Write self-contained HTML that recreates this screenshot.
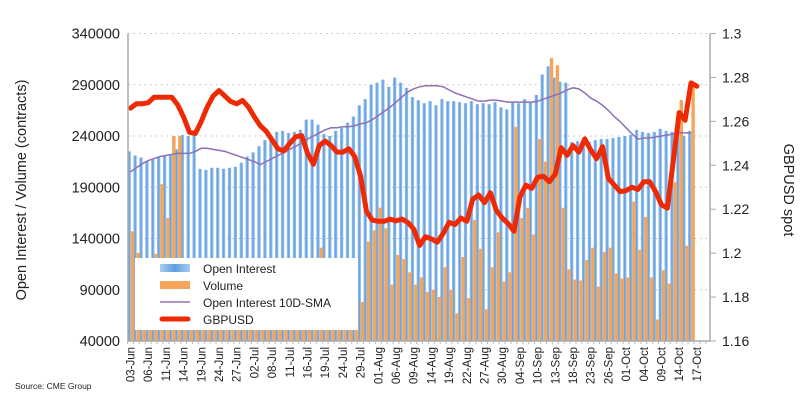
<!DOCTYPE html>
<html><head><meta charset="utf-8"><style>
body{margin:0;background:#fff;}
svg{display:block;font-family:"Liberation Sans",sans-serif;}
</style></head><body>
<svg id="chart" width="806" height="413" xmlns="http://www.w3.org/2000/svg">
<defs>
<linearGradient id="blueGrad" x1="0" x2="1" y1="0" y2="0">
<stop offset="0" stop-color="#a9cbf2"/><stop offset="0.5" stop-color="#5e9de0"/><stop offset="1" stop-color="#a9cbf2"/>
</linearGradient>
</defs>
<g id="grid"></g>
<g id="bars"></g>
<g id="lines"></g>
<g id="axes"></g>
<g id="legend">
<rect x="135" y="258" width="223" height="72" fill="#fff"/>
<rect x="160" y="264" width="30" height="8" fill="url(#blueGrad)"/>
<text x="203" y="273" font-size="12" fill="#222">Open Interest</text>
<rect x="160" y="281" width="30" height="8" fill="#f4a55a"/>
<text x="203" y="290" font-size="12" fill="#222">Volume</text>
<line x1="160" y1="302" x2="190" y2="302" stroke="#8e70b5" stroke-width="1.5"/>
<text x="203" y="307" font-size="12" fill="#222">Open Interest 10D-SMA</text>
<line x1="162" y1="319" x2="188" y2="319" stroke="#ee2a05" stroke-width="5" stroke-linecap="round"/>
<text x="203" y="324" font-size="12" fill="#222">GBPUSD</text>
</g>
<text transform="translate(26,190) rotate(-90)" text-anchor="middle" font-size="14.5" fill="#222">Open Interest / Volume (contracts)</text>
<text transform="translate(784,190) rotate(90)" text-anchor="middle" font-size="14.5" fill="#222">GBPUSD spot</text>
<text x="15" y="389" font-size="8.5" fill="#222">Source: CME Group</text>
</svg>
<script>
const xLabels=["03-Jun","06-Jun","11-Jun","14-Jun","19-Jun","24-Jun","27-Jun","02-Jul","08-Jul","11-Jul","16-Jul","19-Jul","24-Jul","29-Jul","01-Aug","06-Aug","09-Aug","14-Aug","19-Aug","22-Aug","27-Aug","30-Aug","04-Sep","10-Sep","13-Sep","18-Sep","23-Sep","26-Sep","01-Oct","04-Oct","09-Oct","14-Oct","17-Oct"];
const leftTicks=[40000,90000,140000,190000,240000,290000,340000];
const rightTicks=[1.16,1.18,1.2,1.22,1.24,1.26,1.28,1.3];
const openInterest=[225,221,219,215,217,219,221,222,227,241,240,242,208,207,209,209,208,209,210,214,220,224,230,236,241,244,245,243,244,246,256,256,251,242,240,245,248,253,259,270,276,290,292,295,288,297,292,287,278,275,272,274,270,276,274,274,273,272,274,271,272,271,273,268,266,273,272,276,273,280,300,308,297,293,292,234,235,233,234,236,237,237,238,239,240,241,246,244,243,244,247,245,244,243,240,245];
const volume=[147,126,70,70,125,193,160,240,240,80,80,80,80,80,80,80,80,80,80,80,80,80,80,80,118,80,80,80,80,80,80,80,131,80,80,80,80,80,80,78,137,148,170,150,95,124,120,107,95,102,88,90,83,112,90,67,122,82,158,130,71,112,146,98,107,249,160,170,144,237,215,316,309,170,110,100,99,119,131,93,127,131,106,101,102,176,129,161,102,61,109,96,195,275,133,292];
const sma10=[205,209,213,216,218,220,221,222,223,223,223,225,228,228,227,226,225,223,221,219,217,215,212,215,218,221,224,227,230,233,237,240,243,246,248,248,249,249,250,252,253,256,260,264,268,273,278,283,286,288,289,289,289,288,285,282,280,278,276,274,274,275,275,274,273,273,273,273,273,274,276,278,280,282,285,287,286,282,277,274,270,265,259,254,248,242,237,238,238,239,240,241,242,243,243,243];
const gbpusd=[1.266,1.268,1.268,1.2685,1.271,1.271,1.271,1.271,1.2675,1.262,1.255,1.2545,1.26,1.2665,1.2715,1.274,1.2715,1.269,1.268,1.2695,1.2665,1.262,1.258,1.2555,1.2515,1.2475,1.2465,1.25,1.253,1.2535,1.2455,1.2405,1.249,1.251,1.249,1.246,1.246,1.2475,1.244,1.235,1.219,1.215,1.2145,1.2145,1.2155,1.2147,1.2155,1.214,1.211,1.2035,1.2075,1.2065,1.205,1.209,1.214,1.213,1.216,1.2145,1.2245,1.2265,1.223,1.2275,1.2195,1.216,1.2135,1.21,1.2255,1.231,1.2295,1.2345,1.235,1.2325,1.236,1.248,1.2445,1.249,1.246,1.252,1.247,1.243,1.2485,1.234,1.231,1.228,1.2285,1.23,1.229,1.2325,1.2325,1.228,1.222,1.2205,1.242,1.264,1.2605,1.2775,1.276];

const NS="http://www.w3.org/2000/svg";
const X0=128,X1=710,Y0=33.5,Y1=341;
function xPos(i){return 130.5+5.9*i;}
function yL(v){return Y1-(v-40000)/300000*(Y1-Y0);}
function yR(v){return Y1-(v-1.16)/0.14*(Y1-Y0);}
function mk(tag,attrs,parent){const e=document.createElementNS(NS,tag);for(const k in attrs)e.setAttribute(k,attrs[k]);parent.appendChild(e);return e;}
const grid=document.getElementById('grid'),bars=document.getElementById('bars'),lines=document.getElementById('lines'),axes=document.getElementById('axes');

leftTicks.forEach(t=>{
  const y=yL(t);
  if(t>40000){const g=mk('line',{x1:X0,x2:X1,y1:y,y2:y,stroke:'#bbb','stroke-width':1,'stroke-dasharray':'1.5,4'},grid);
  
  }
  const tx=mk('text',{x:120,y:y+5,'text-anchor':'end','font-size':14.5,fill:'#222'},axes);
  tx.textContent=t;
  
  
});
rightTicks.forEach(t=>{
  const y=yR(t);
  mk('line',{x1:X1,x2:X1+6,y1:y,y2:y,stroke:'#aaa'},axes);
  const tx=mk('text',{x:722,y:y+5,'font-size':14,fill:'#222'},axes);
  tx.textContent=String(t);
  
  
});

openInterest.forEach((v,i)=>{
  const x=xPos(i),y=yL(v*1000);
  const r=mk('rect',{x:x-3,y:y,width:3.4,height:Y1-y,fill:'url(#blueGrad)'},bars);
  
  
});
volume.forEach((v,i)=>{
  const x=xPos(i),y=yL(v*1000);
  const r=mk('rect',{x:x+0.4,y:y,width:3.4,height:Y1-y,fill:'#f4a55a'},bars);
  
  
});

const smaPath=mk('polyline',{points:sma10.map((v,i)=>xPos(i)+','+yL(v*1000)).join(' '),fill:'none',stroke:'#8e70b5','stroke-width':1.5},lines);


const gbpPath=mk('polyline',{points:gbpusd.map((v,i)=>xPos(i)+','+yR(v)).join(' '),fill:'none',stroke:'#ee2a05','stroke-width':5,'stroke-linejoin':'round','stroke-linecap':'round'},lines);



// axes lines
const la=mk('line',{x1:X0,x2:X0,y1:Y0,y2:Y1,stroke:'#aaa','stroke-width':1.5},axes);


const ra=mk('line',{x1:X1,x2:X1,y1:Y0,y2:Y1,stroke:'#aaa','stroke-width':1.5},axes);


const xa=mk('line',{x1:X0,x2:X1,y1:Y1,y2:Y1,stroke:'#aaa','stroke-width':1.5},axes);


for(let i=0;i<99;i++){mk('line',{x1:xPos(i)-2.95,x2:xPos(i)-2.95,y1:Y1,y2:Y1+3,stroke:'#bbb'},axes);}
xLabels.forEach((l,k)=>{
  const x=xPos(k*3);
  const tx=mk('text',{transform:'translate('+(x+4)+',347) rotate(-90)','text-anchor':'end','font-size':11.5,fill:'#222'},axes);
  tx.textContent=l;
  
  
});
</script>
</body></html>
